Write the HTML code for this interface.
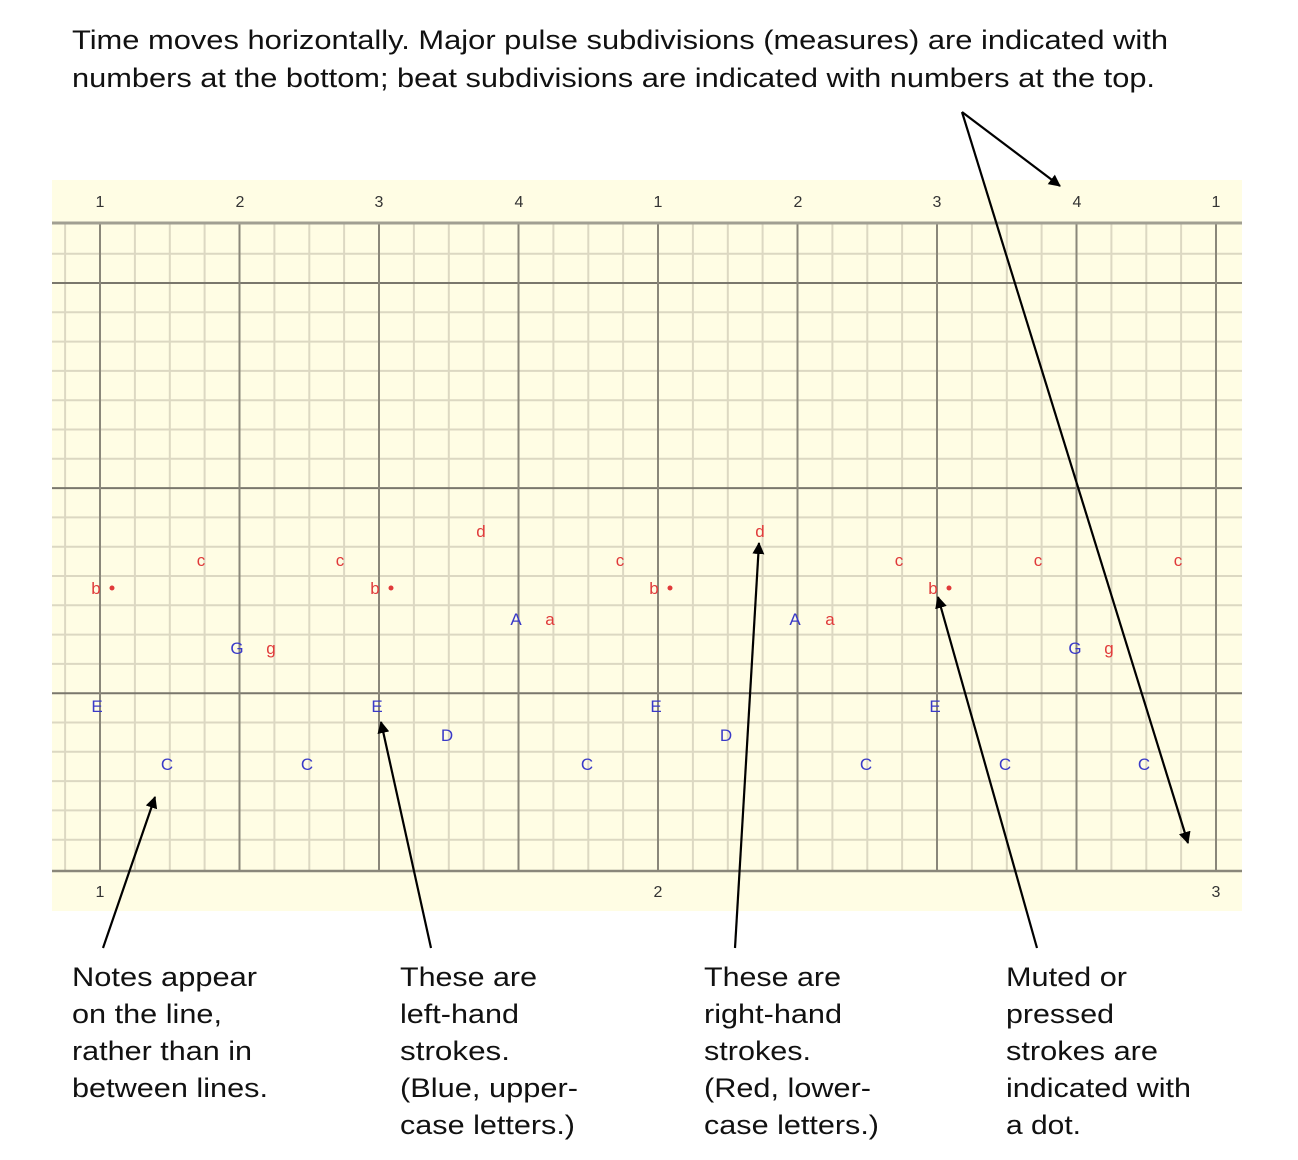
<!DOCTYPE html>
<html><head><meta charset="utf-8"><style>
html,body{margin:0;padding:0;background:#fff;}
svg{display:block;font-family:"Liberation Sans",Arial,sans-serif;}
</style></head><body>
<svg width="1298" height="1160" viewBox="0 0 1298 1160" xmlns="http://www.w3.org/2000/svg">
<rect x="52" y="180" width="1190" height="731" fill="#fffde4"/>
<path stroke="#dcd8c2" stroke-width="2" fill="none" d="
M52 253.7H1242 M52 312.3H1242 M52 341.6H1242 M52 370.9H1242 M52 400.2H1242 M52 429.5H1242 M52 458.8H1242
M52 517.4H1242 M52 546.7H1242 M52 576H1242 M52 605.3H1242 M52 634.6H1242 M52 663.9H1242
M52 722.5H1242 M52 751.8H1242 M52 781.1H1242 M52 810.4H1242 M52 839.7H1242
M65.1 223V871 M134.9 223V871 M169.8 223V871 M204.6 223V871 M274.4 223V871 M309.3 223V871 M344.1 223V871
M413.9 223V871 M448.8 223V871 M483.6 223V871 M553.4 223V871 M588.3 223V871 M623.1 223V871
M692.9 223V871 M727.8 223V871 M762.6 223V871 M832.4 223V871 M867.3 223V871 M902.1 223V871
M971.9 223V871 M1006.8 223V871 M1041.6 223V871 M1111.4 223V871 M1146.3 223V871 M1181.1 223V871"/>
<path stroke="#7a776c" stroke-width="2" fill="none" d="M52 283H1242 M52 488.1H1242 M52 693.2H1242"/>
<path stroke="#8a877a" stroke-width="2" fill="none" d="M100 223V871 M239.5 223V871 M379 223V871 M518.5 223V871 M658 223V871 M797.5 223V871 M937 223V871 M1076.5 223V871 M1216 223V871"/>
<line x1="52" x2="1242" y1="223" y2="223" stroke="#a19f92" stroke-width="3"/>
<line x1="52" x2="1242" y1="871" y2="871" stroke="#8a877a" stroke-width="2.5"/>
<g font-size="16" fill="#333" text-anchor="middle">
<text x="100" y="207">1</text><text x="240" y="207">2</text><text x="379" y="207">3</text><text x="519" y="207">4</text>
<text x="658" y="207">1</text><text x="798" y="207">2</text><text x="937" y="207">3</text><text x="1077" y="207">4</text><text x="1216" y="207">1</text>
<text x="100" y="897">1</text><text x="658" y="897">2</text><text x="1216" y="897">3</text>
</g>
<g font-size="17" fill="#e03a3a" text-anchor="middle">
<text x="96" y="594">b</text><text x="201" y="566">c</text><text x="340" y="566">c</text><text x="375" y="594">b</text>
<text x="481" y="537">d</text><text x="550" y="625">a</text><text x="271" y="654">g</text><text x="620" y="566">c</text>
<text x="654" y="594">b</text><text x="760" y="537">d</text><text x="830" y="625">a</text><text x="899" y="566">c</text>
<text x="933" y="594">b</text><text x="1038" y="566">c</text><text x="1109" y="654">g</text><text x="1178" y="566">c</text>
</g>
<g fill="#e03a3a"><circle cx="112" cy="588" r="2.5"/><circle cx="391" cy="588" r="2.5"/><circle cx="670" cy="588" r="2.5"/><circle cx="949" cy="588" r="2.5"/></g>
<g font-size="17" fill="#3a3ac8" text-anchor="middle">
<text x="97" y="712">E</text><text x="167" y="770">C</text><text x="237" y="654">G</text><text x="307" y="770">C</text>
<text x="377" y="712">E</text><text x="447" y="741">D</text><text x="516" y="625">A</text><text x="587" y="770">C</text>
<text x="656" y="712">E</text><text x="726" y="741">D</text><text x="795" y="625">A</text><text x="866" y="770">C</text>
<text x="935" y="712">E</text><text x="1005" y="770">C</text><text x="1075" y="654">G</text><text x="1144" y="770">C</text>
</g>
<defs><marker id="ah" markerWidth="12" markerHeight="12" refX="11" refY="6" orient="auto" markerUnits="userSpaceOnUse" viewBox="0 0 12 12"><path d="M0,0 L12,6 L0,12 z" fill="#000"/></marker></defs>
<g stroke="#000" stroke-width="2.2" marker-end="url(#ah)" fill="none">
<line x1="103" y1="948" x2="155" y2="797"/>
<line x1="431" y1="948" x2="381" y2="722"/>
<line x1="735" y1="948" x2="759" y2="543"/>
<line x1="1037" y1="948" x2="938" y2="597"/>
<line x1="962" y1="112" x2="1060" y2="186"/>
<line x1="962" y1="112" x2="1188" y2="843"/>
</g>
<g font-size="27" fill="#111" lengthAdjust="spacingAndGlyphs">
<text x="72" y="49" textLength="1096" lengthAdjust="spacingAndGlyphs">Time moves horizontally. Major pulse subdivisions (measures) are indicated with</text>
<text x="72" y="87" textLength="1083" lengthAdjust="spacingAndGlyphs">numbers at the bottom; beat subdivisions are indicated with numbers at the top.</text>
<text x="72" y="986" textLength="185" lengthAdjust="spacingAndGlyphs">Notes appear</text>
<text x="72" y="1023" textLength="150" lengthAdjust="spacingAndGlyphs">on the line,</text>
<text x="72" y="1060" textLength="180" lengthAdjust="spacingAndGlyphs">rather than in</text>
<text x="72" y="1097" textLength="196" lengthAdjust="spacingAndGlyphs">between lines.</text>
<text x="400" y="986" textLength="137" lengthAdjust="spacingAndGlyphs">These are</text>
<text x="400" y="1023" textLength="119" lengthAdjust="spacingAndGlyphs">left-hand</text>
<text x="400" y="1060" textLength="110" lengthAdjust="spacingAndGlyphs">strokes.</text>
<text x="400" y="1097" textLength="178" lengthAdjust="spacingAndGlyphs">(Blue, upper-</text>
<text x="400" y="1134" textLength="175" lengthAdjust="spacingAndGlyphs">case letters.)</text>
<text x="704" y="986" textLength="137" lengthAdjust="spacingAndGlyphs">These are</text>
<text x="704" y="1023" textLength="138" lengthAdjust="spacingAndGlyphs">right-hand</text>
<text x="704" y="1060" textLength="107" lengthAdjust="spacingAndGlyphs">strokes.</text>
<text x="704" y="1097" textLength="167" lengthAdjust="spacingAndGlyphs">(Red, lower-</text>
<text x="704" y="1134" textLength="175" lengthAdjust="spacingAndGlyphs">case letters.)</text>
<text x="1006" y="986" textLength="121" lengthAdjust="spacingAndGlyphs">Muted or</text>
<text x="1006" y="1023" textLength="108" lengthAdjust="spacingAndGlyphs">pressed</text>
<text x="1006" y="1060" textLength="152" lengthAdjust="spacingAndGlyphs">strokes are</text>
<text x="1006" y="1097" textLength="185" lengthAdjust="spacingAndGlyphs">indicated with</text>
<text x="1006" y="1134" textLength="75" lengthAdjust="spacingAndGlyphs">a dot.</text>
</g>
</svg>
</body></html>
